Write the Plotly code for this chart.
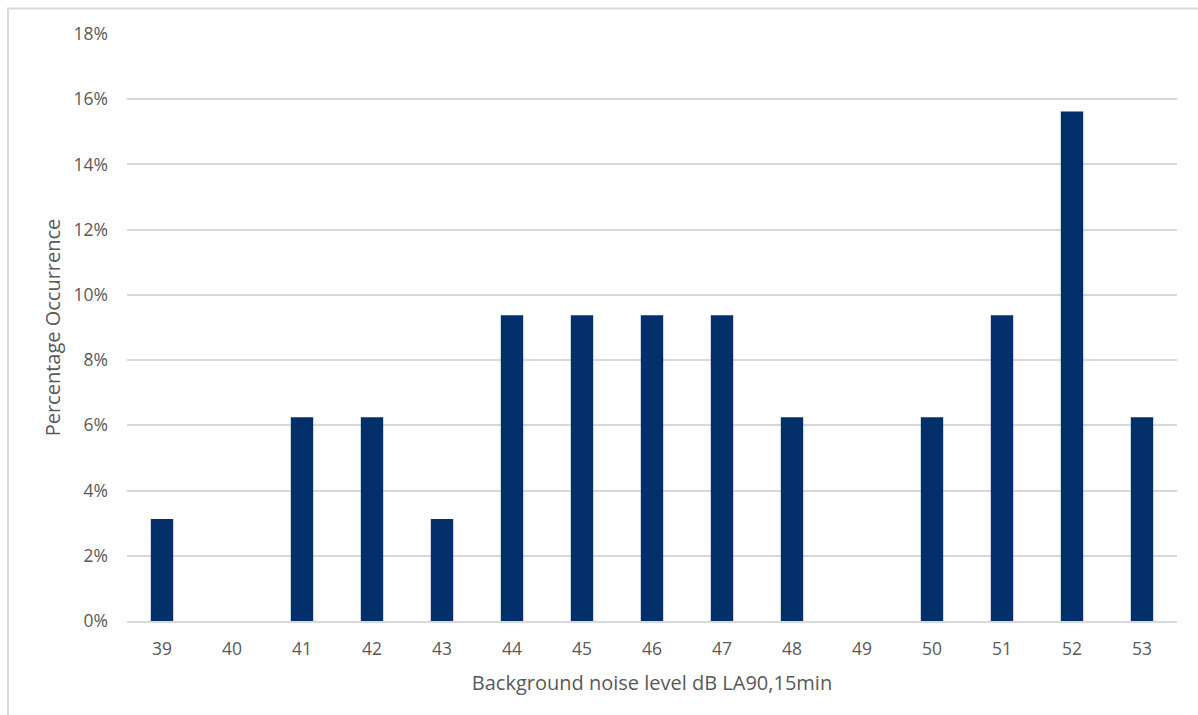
import plotly.graph_objects as go

# Background noise level bins (dB LA90,15min) and share of samples in each bin
levels = ["39", "40", "41", "42", "43", "44", "45", "46", "47", "48", "49", "50", "51", "52", "53"]
occurrence_pct = [3.125, 0, 6.25, 6.25, 3.125, 9.375, 9.375, 9.375, 9.375, 6.25, 0, 6.25, 9.375, 15.625, 6.25]
y_ticks = [0, 2, 4, 6, 8, 10, 12, 14, 16, 18]

W, H = 1198, 715
L, R, T, B = 127, 21, 33.5, 94
pw, ph = W - L - R, H - T - B

font_family = "'Open Sans', Lato, sans-serif"
grey = "#595959"

fig = go.Figure(
    go.Bar(
        x=levels,
        y=occurrence_pct,
        marker=dict(color="#03306B", line=dict(width=0)),
        width=0.32,
    )
)

fig.update_layout(
    width=W,
    height=H,
    margin=dict(l=L, r=R, t=T, b=B),
    paper_bgcolor="white",
    plot_bgcolor="white",
    showlegend=False,
    font=dict(family=font_family, color=grey, size=17),
    xaxis=dict(
        type="category",
        showgrid=False,
        showline=True,
        linecolor="#D9D9D9",
        linewidth=2,
        ticks="",
        ticklabelstandoff=11,
        tickfont=dict(size=17.5, color=grey),
        title=dict(text="Background noise level dB LA90,15min", font=dict(size=20, color=grey), standoff=17),
    ),
    yaxis=dict(
        range=[0, 18],
        tickvals=y_ticks,
        ticktext=[f"{v}%" for v in y_ticks],
        showgrid=True,
        gridcolor="#D9D9D9",
        gridwidth=1.5,
        zeroline=False,
        showline=False,
        ticks="",
        ticklabelstandoff=18,
        tickfont=dict(size=17.5, color=grey),
        title=dict(text="Percentage Occurrence", font=dict(size=20, color=grey), standoff=7),
    ),
)

# Outer chart frame (top-left corner visible)
fig.add_shape(
    type="rect",
    xref="paper",
    yref="paper",
    x0=(8 - L) / pw,
    x1=(W + 20 - L) / pw,
    y0=-(H + 20 - (T + ph)) / ph,
    y1=(T + ph - 8) / ph,
    line=dict(color="#D9D9D9", width=2),
    fillcolor="rgba(0,0,0,0)",
    layer="below",
)

fig.write_html("out.html")
